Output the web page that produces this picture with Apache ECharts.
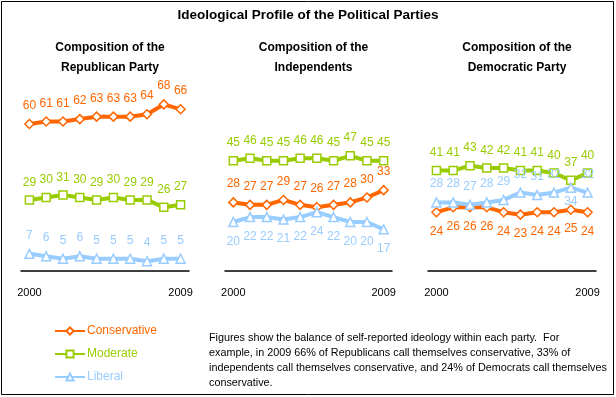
<!DOCTYPE html>
<html>
<head>
<meta charset="utf-8">
<script src="https://cdn.jsdelivr.net/npm/echarts@6/dist/echarts.min.js"></script>
<style>
html,body{margin:0;padding:0;background:#fff;}
#chart{width:616px;height:397px;}
</style>
</head>
<body>
<div id="chart"></div>
<script>
const years = ['2000','2001','2002','2003','2004','2005','2006','2007','2008','2009'];
const tickYears = ['2000','2009'];
const panelTitles = ['Composition of the\nRepublican Party','Composition of the\nIndependents','Composition of the\nDemocratic Party'];
const seriesNames = ['Conservative','Moderate','Liberal'];

const repConservative = [60,61,61,62,63,63,63,64,68,66];
const repModerate     = [29,30,31,30,29,30,29,29,26,27];
const repLiberal      = [7,6,5,6,5,5,5,4,5,5];

const indConservative = [28,27,27,29,27,26,27,28,30,33];
const indModerate     = [45,46,45,45,46,46,45,47,45,45];
const indLiberal      = [20,22,22,21,22,24,22,20,20,17];

const demConservative = [24,26,26,26,24,23,24,24,25,24];
const demModerate     = [41,41,43,42,42,41,41,40,37,40];
const demLiberal      = [28,28,27,28,29,32,31,32,34,32];

const FONT = '"Liberation Sans", Arial, sans-serif';
const colors = {Conservative:'#FF6600', Moderate:'#99CC00', Liberal:'#99CCFF'};
const symbols = {Conservative:'diamond', Moderate:'rect', Liberal:'triangle'};
const symbolSizes = {Conservative:9, Moderate:8, Liberal:9};
const zOrder = {Conservative:3, Moderate:2, Liberal:4};

const panels = [
  {left:21, width:168, data:{Conservative:repConservative, Moderate:repModerate, Liberal:repLiberal},
   labelPos:{Conservative:'top', Moderate:'top', Liberal:'top'}, below:{}},
  {left:225, width:167, data:{Conservative:indConservative, Moderate:indModerate, Liberal:indLiberal},
   labelPos:{Conservative:'top', Moderate:'top', Liberal:'bottom'}, below:{}},
  {left:428, width:168, data:{Conservative:demConservative, Moderate:demModerate, Liberal:demLiberal},
   labelPos:{Conservative:'bottom', Moderate:'top', Liberal:'top'}, below:{Liberal:[8]}}
];

const grids = [], xAxes = [], yAxes = [], series = [], titles = [];
titles.push({text:'Ideological Profile of the Political Parties', left:'center', top:3,
  textStyle:{fontFamily:FONT, fontSize:13.5, fontWeight:'bold', color:'#000'}});

panels.forEach((p, i) => {
  grids.push({left:p.left, width:p.width, top:75, height:196});
  xAxes.push({type:'value', gridIndex:i, min:-0.5, max:9.5,
    axisLine:{show:true, onZero:false, lineStyle:{color:'#000', width:1.5}},
    axisTick:{show:false}, splitLine:{show:false},
    axisLabel:{show:true, customValues:[0, 9], margin:16, color:'#000', fontFamily:FONT, fontSize:11,
      formatter:(v)=> v < 4.5 ? tickYears[0] : tickYears[1]}});
  yAxes.push({type:'value', gridIndex:i, min:0, max:80, show:false, splitLine:{show:false}});
  titles.push({text:panelTitles[i], left:p.left + p.width/2, textAlign:'center', top:33,
    textStyle:{fontFamily:FONT, fontSize:12, fontWeight:'bold', color:'#000', lineHeight:20}});
  seriesNames.forEach(name => {
    const vals = p.data[name];
    const belowIdx = p.below[name] || [];
    series.push({
      name, type:'line', xAxisIndex:i, yAxisIndex:i,
      data: vals.map((v, k) => {
        const item = {value:[k, v]};
        if (belowIdx.includes(k)) item.label = {position:'bottom', distance:3};
        return item;
      }),
      symbol: symbols[name], symbolSize: symbolSizes[name], showAllSymbol:true,
      lineStyle:{color:colors[name], width:4},
      itemStyle:{color:'#fff', borderColor:colors[name], borderWidth:1.5},
      label:{show:true, position:p.labelPos[name], distance:p.labelPos[name]==='top'?7:8,
        color:colors[name], fontFamily:FONT, fontSize:12, formatter:(d)=>d.value[1]},
      emphasis:{disabled:true}, animation:false, z:zOrder[name]
    });
  });
});

const chart = echarts.init(document.getElementById('chart'), null, {renderer:'canvas'});
chart.setOption({
  animation:false,
  title: titles,
  grid: grids, xAxis: xAxes, yAxis: yAxes, series,
  legend:{orient:'vertical', left:49, top:320, itemWidth:30, itemHeight:9, itemGap:11,
    selectedMode:false, textStyle:{fontFamily:FONT, fontSize:12, padding:[0,0,0,-3]},
    data: seriesNames.map(n => ({name:n, textStyle:{color:colors[n]}}))},
  graphic:[
    {type:'rect', shape:{x:1.5, y:1.5, width:612, height:393}, style:{fill:null, stroke:'#000', lineWidth:1}, silent:true},
    {type:'text', left:209, top:331, style:{
      text:'Figures show the balance of self-reported ideology within each party.  For\nexample, in 2009 66% of Republicans call themselves conservative, 33% of\nindependents call themselves conservative, and 24% of Democrats call themselves\nconservative.',
      font:'10.8px "Liberation Sans", Arial, sans-serif', fill:'#000', lineHeight:15}}
  ]
});
</script>
</body>
</html>
